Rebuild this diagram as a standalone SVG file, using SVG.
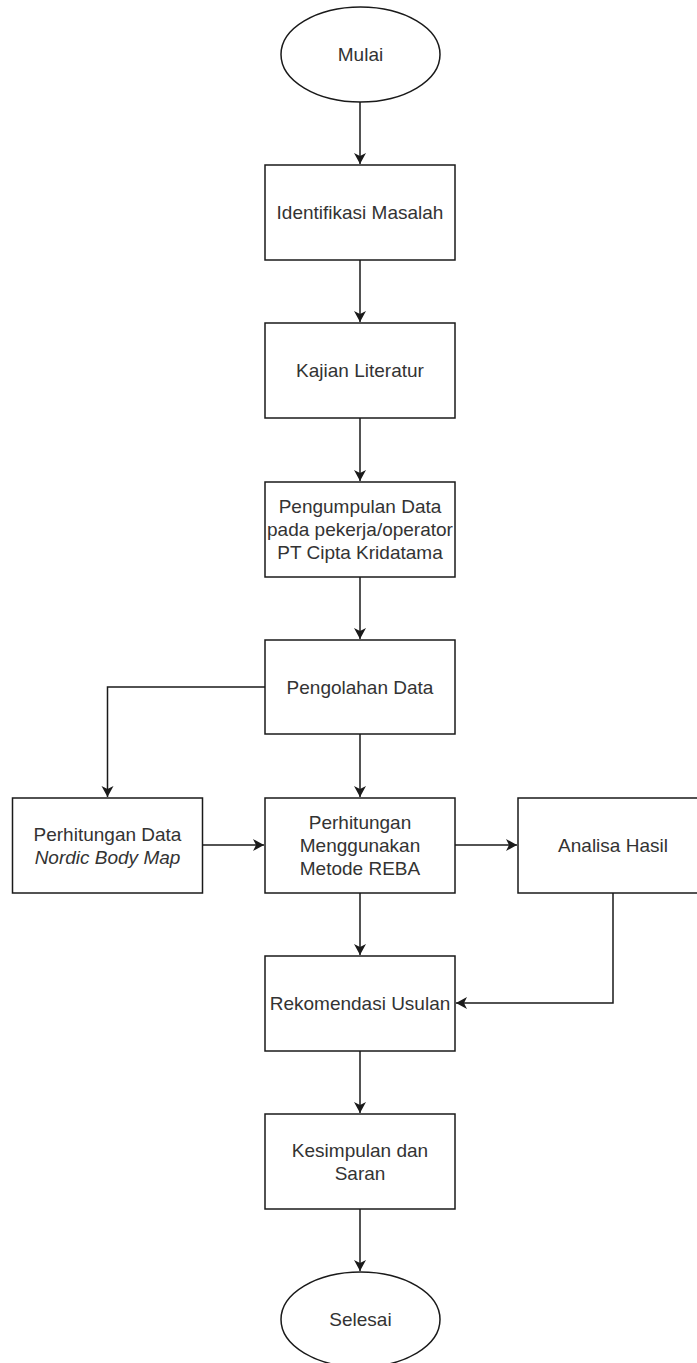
<svg xmlns="http://www.w3.org/2000/svg" width="697" height="1363" viewBox="0 0 697 1363">
<style>
.n{fill:#fff;stroke:#1a1a1a;stroke-width:1.5}
.t{font-family:"Liberation Sans",Arial,sans-serif;font-size:19px;fill:#333;text-anchor:middle}
.i{font-style:italic}
.e{fill:none;stroke:#1a1a1a;stroke-width:1.5}
</style>
<defs>
<marker id="arr" markerUnits="userSpaceOnUse" markerWidth="14" markerHeight="14" refX="11" refY="6" orient="auto">
<path d="M0,0 L11,6 L0,12 L3,6 Z" fill="#1a1a1a"/>
</marker>
</defs>
<rect width="697" height="1363" fill="#fff"/>
<g id="connectors">
<path class="e" d="M360,102 L360,164" marker-end="url(#arr)"/>
<path class="e" d="M360,260 L360,322" marker-end="url(#arr)"/>
<path class="e" d="M360,418 L360,481" marker-end="url(#arr)"/>
<path class="e" d="M360,577 L360,639" marker-end="url(#arr)"/>
<path class="e" d="M360,734 L360,797" marker-end="url(#arr)"/>
<path class="e" d="M265,687 L107.5,687 L107.5,797" marker-end="url(#arr)"/>
<path class="e" d="M202,845 L264,845" marker-end="url(#arr)"/>
<path class="e" d="M455,845 L517,845" marker-end="url(#arr)"/>
<path class="e" d="M360,893 L360,955" marker-end="url(#arr)"/>
<path class="e" d="M613,893 L613,1003 L456,1003" marker-end="url(#arr)"/>
<path class="e" d="M360,1051 L360,1113" marker-end="url(#arr)"/>
<path class="e" d="M360,1209 L360,1271" marker-end="url(#arr)"/>
</g>
<g id="mulai"><ellipse class="n" cx="360.5" cy="54.5" rx="79.5" ry="47.5"/><text class="t" x="360.5" y="61">Mulai</text></g>
<g id="identifikasi"><rect class="n" x="265" y="165" width="190" height="95"/><text class="t" x="360" y="219">Identifikasi Masalah</text></g>
<g id="kajian"><rect class="n" x="265" y="323" width="190" height="95"/><text class="t" x="360" y="377">Kajian Literatur</text></g>
<g id="pengumpulan"><rect class="n" x="265" y="482" width="190" height="95"/><text class="t" x="360" y="513">Pengumpulan Data</text><text class="t" x="360" y="536">pada pekerja/operator</text><text class="t" x="360" y="559">PT Cipta Kridatama</text></g>
<g id="pengolahan"><rect class="n" x="265" y="640" width="190" height="94"/><text class="t" x="360" y="694">Pengolahan Data</text></g>
<g id="nordic"><rect class="n" x="12.5" y="798" width="190" height="95"/><text class="t" x="107.5" y="841">Perhitungan Data</text><text class="t i" x="107.5" y="864">Nordic Body Map</text></g>
<g id="reba"><rect class="n" x="265" y="798" width="190" height="95"/><text class="t" x="360" y="829">Perhitungan</text><text class="t" x="360" y="852">Menggunakan</text><text class="t" x="360" y="875">Metode REBA</text></g>
<g id="analisa"><rect class="n" x="518" y="798" width="190" height="95"/><text class="t" x="613" y="852">Analisa Hasil</text></g>
<g id="rekomendasi"><rect class="n" x="265" y="956" width="190" height="95"/><text class="t" x="360" y="1010">Rekomendasi Usulan</text></g>
<g id="kesimpulan"><rect class="n" x="265" y="1114" width="190" height="95"/><text class="t" x="360" y="1157">Kesimpulan dan</text><text class="t" x="360" y="1180">Saran</text></g>
<g id="selesai"><ellipse class="n" cx="360.5" cy="1319.5" rx="79.5" ry="47.5"/><text class="t" x="360.5" y="1326">Selesai</text></g>
</svg>
